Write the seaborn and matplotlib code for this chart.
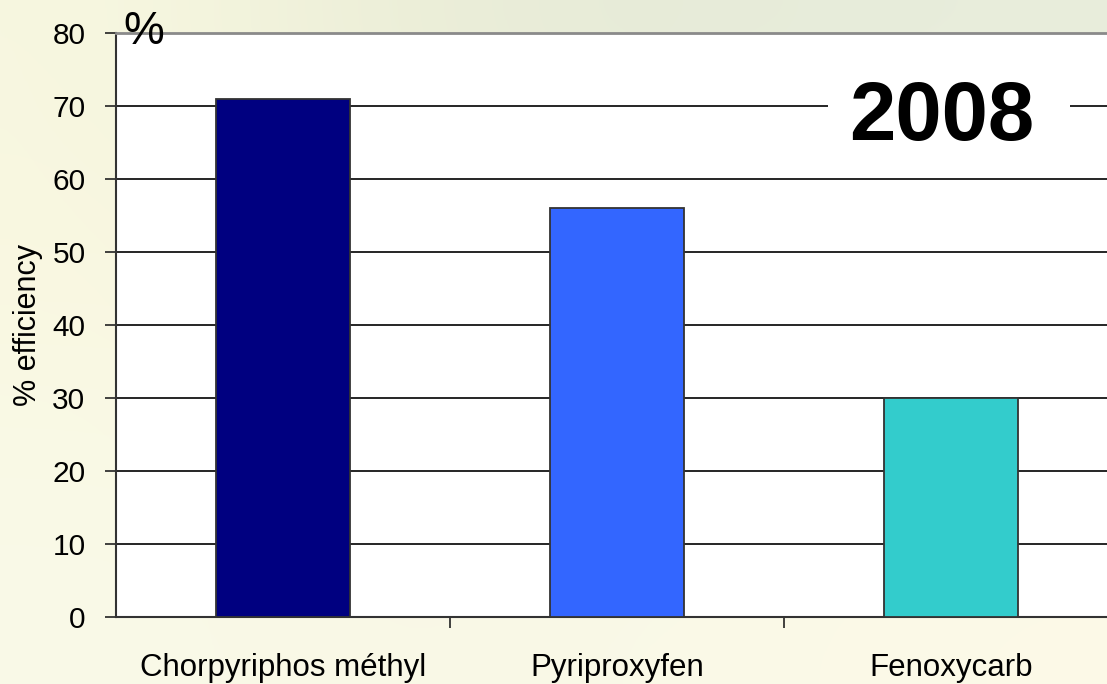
import numpy as np
import pandas as pd
import matplotlib
matplotlib.use("Agg")
import matplotlib.pyplot as plt
from matplotlib.patches import Rectangle
import seaborn as sns

# Efficiency of each insecticide treatment, 2008
products = ["Chorpyriphos méthyl", "Pyriproxyfen", "Fenoxycarb"]
efficiency = [71, 56, 30]
bar_colors = ["#000080", "#3366FF", "#33CCCC"]
y_ticks = [0, 10, 20, 30, 40, 50, 60, 70, 80]
year_label = "2008"

sns.set_theme(style="white")
plt.rcParams["font.family"] = ["Liberation Sans", "DejaVu Sans"]

df = pd.DataFrame({"product": products, "efficiency": efficiency})

W, H = 1107, 684
fig = plt.figure(figsize=(W / 100, H / 100), dpi=100)

# soft pale backdrop behind the chart
bg_ax = fig.add_axes([0, 0, 1, 1], zorder=-10)
bg = np.array([
    [[0.97, 0.97, 0.88], [0.92, 0.93, 0.84], [0.90, 0.92, 0.85], [0.91, 0.93, 0.86]],
    [[0.98, 0.97, 0.88], [0.95, 0.95, 0.88], [0.94, 0.95, 0.88], [0.95, 0.96, 0.88]],
    [[0.98, 0.98, 0.90], [0.97, 0.96, 0.89], [0.97, 0.97, 0.90], [0.98, 0.97, 0.89]],
    [[0.98, 0.98, 0.91], [0.98, 0.97, 0.90], [0.98, 0.98, 0.91], [0.99, 0.98, 0.91]],
])
bg_ax.imshow(bg, aspect="auto", interpolation="bicubic", extent=[0, 1, 0, 1])
bg_ax.set_axis_off()

ax_l, ax_b, ax_w, ax_h = 116, 67, 1002, 584
ax = fig.add_axes([ax_l / W, ax_b / H, ax_w / W, ax_h / H])
ax.set_facecolor("white")

sns.barplot(data=df, x="product", y="efficiency", hue="product",
            palette=bar_colors, saturation=1, width=0.4,
            edgecolor="#333333", linewidth=1.3,
            legend=False, ax=ax, zorder=3)

ax.set_xlim(-0.5, 2.5)
ax.set_ylim(0, 80)
ax.set_yticks(y_ticks)
ax.yaxis.grid(True, color="black", linewidth=1.2, zorder=0)
ax.set_axisbelow(True)

# category separators on the x axis
ax.set_xticks([0.5, 1.5], minor=True)
ax.set_xticks([0, 1, 2])
ax.set_xticklabels(products, fontsize=22.5)
ax.tick_params(axis="x", which="major", length=0, pad=26, colors="black")
ax.tick_params(axis="x", which="minor", length=8, width=1.2, color="#222222", bottom=True)
ax.tick_params(axis="y", length=8, width=1.2, color="#222222", pad=14,
               labelsize=21.5, labelcolor="black", left=True)

for side in ["left", "bottom"]:
    ax.spines[side].set_color("#333333")
    ax.spines[side].set_linewidth(1.5)
ax.spines["top"].set_color("#8a8a8a")
ax.spines["top"].set_linewidth(2)
ax.spines["right"].set_visible(False)

ax.set_xlabel("")
ax.set_ylabel("% efficiency", fontsize=22, color="black")
ax.yaxis.set_label_coords(-0.073, 0.5)

fig.text(123 / W, 1 - 32 / H, "%", fontsize=33, color="black",
         ha="left", va="center")


def to_axes(px, py):
    """Figure pixel (from top-left) to axes fraction."""
    return (px - ax_l) / ax_w, (H - py - ax_b) / ax_h


# white label box interrupting the top gridline
x0, y1 = to_axes(828, 84)
x1, y0 = to_axes(1070, 130)
ax.add_patch(Rectangle((x0, y0), x1 - x0, y1 - y0, transform=ax.transAxes,
                       facecolor="white", edgecolor="none", zorder=4))
tx, ty = to_axes(942, 118)
ax.text(tx, ty, year_label, transform=ax.transAxes, fontsize=60,
        fontweight="bold", color="black", ha="center", va="center", zorder=5)

fig.savefig("out.png", dpi=100)
